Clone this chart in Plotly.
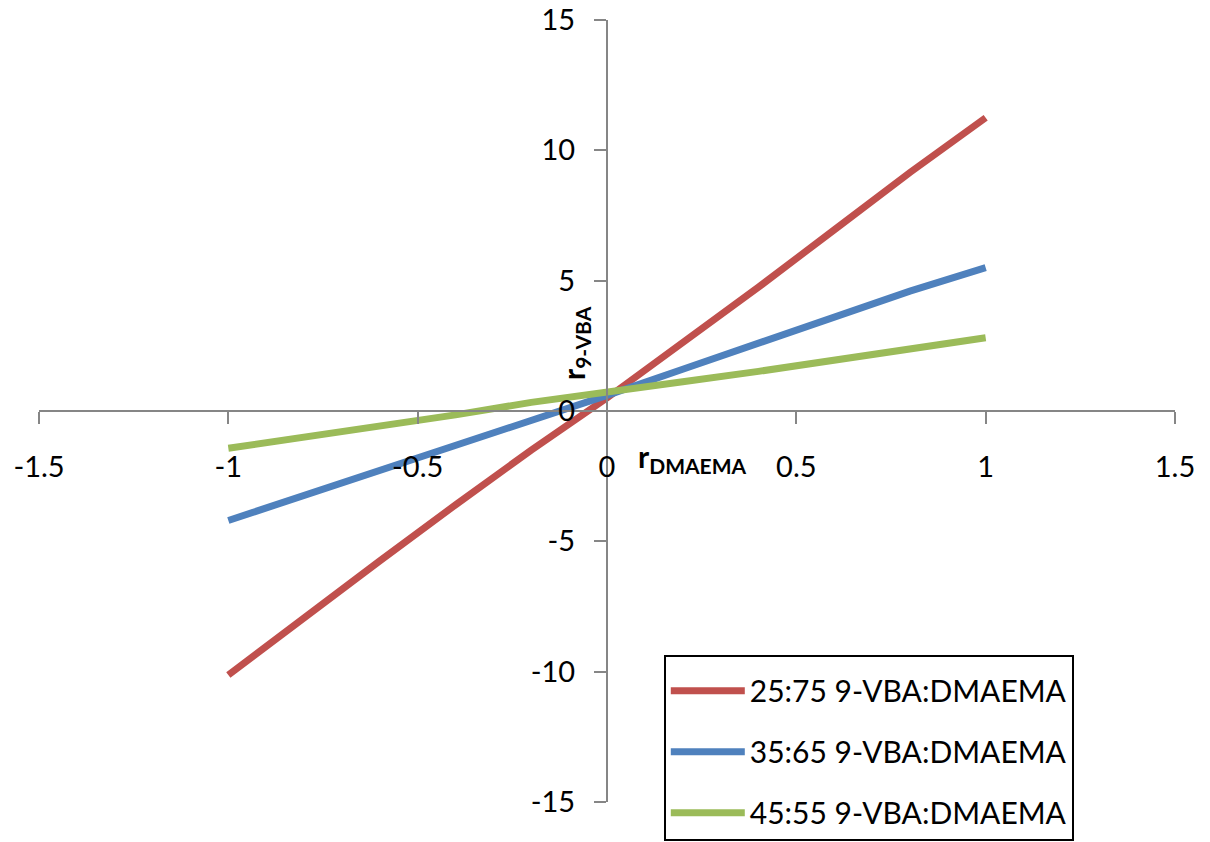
import plotly.graph_objects as go

x_vals = [-1.0, -0.8, -0.6, -0.4, -0.2, 0.0, 0.2, 0.4, 0.6, 0.8, 1.0]
red_25_75 = [-10.13, -7.9, -5.75, -3.6, -1.5, 0.5, 2.6, 4.75, 6.95, 9.15, 11.25]
blue_35_65 = [-4.2, -3.25, -2.3, -1.3, -0.35, 0.6, 1.6, 2.6, 3.65, 4.6, 5.5]
green_45_55 = [-1.43, -1.0, -0.62, -0.15, 0.33, 0.75, 1.12, 1.52, 1.95, 2.42, 2.81]

names = ["25:75 9-VBA:DMAEMA", "35:65 9-VBA:DMAEMA", "45:55 9-VBA:DMAEMA"]
colors = ["#C0504D", "#4F81BD", "#9BBB59"]
x_ticks = [-1.5, -1, -0.5, 0, 0.5, 1, 1.5]
x_tick_text = ["-1.5", "-1", "-0.5", "0", "0.5", "1", "1.5"]
y_ticks = [-15, -10, -5, 0, 5, 10, 15]
y_tick_text = ["-15", "-10", "-5", "0", "5", "10", "15"]

FONT = "Lato"

fig = go.Figure()
for i, (ys, nm, c) in enumerate(zip([red_25_75, blue_35_65, green_45_55], names, colors)):
    fig.add_trace(go.Scatter(x=x_vals, y=ys, mode="lines", name=nm,
                             legendgroup=f"g{i}",
                             line=dict(color=c, width=7)))

axis_common = dict(showgrid=False, zeroline=False, showline=True,
                   linecolor="#868686", linewidth=2,
                   ticks="outside", ticklen=12, tickwidth=2, tickcolor="#868686",
                   tickfont=dict(family=FONT, size=29, color="black"),
                   anchor="free", position=0.5)

fig.update_layout(
    width=1210, height=842,
    margin=dict(l=39, r=35, t=20, b=40, autoexpand=False),
    paper_bgcolor="white", plot_bgcolor="white",
    font=dict(family=FONT, color="black"),
    xaxis=dict(range=[-1.5, 1.5], tickvals=x_ticks, ticktext=x_tick_text,
               ticklabelstandoff=18, **axis_common),
    yaxis=dict(range=[-15, 15], tickvals=y_ticks, ticktext=y_tick_text,
               ticklabelstandoff=13, **axis_common),
    legend=dict(x=0.550, y=0.188, xanchor="left", yanchor="top",
                bordercolor="black", borderwidth=2, bgcolor="white",
                font=dict(family=FONT, size=30, color="black"),
                title=dict(text=" ", font=dict(size=6)),
                itemwidth=74, tracegroupgap=19),
    showlegend=True,
)

fig.add_annotation(x=-0.085, y=2.6, xref="x", yref="y",
                   text="<b>r<sub>9-VBA</sub></b>", textangle=-90, showarrow=False,
                   font=dict(family=FONT, size=30, color="black"))
fig.add_annotation(x=0.225, y=-1.8, xref="x", yref="y",
                   text="<b>r<sub>DMAEMA</sub></b>", showarrow=False,
                   font=dict(family=FONT, size=30, color="black"))

fig.write_html("out.html")
